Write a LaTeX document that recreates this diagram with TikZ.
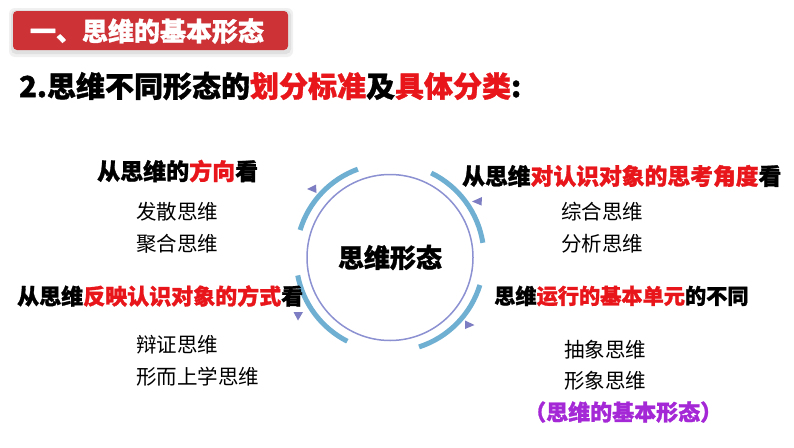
\documentclass[tikz,border=0pt]{standalone}
\usepackage{fontspec}
\setmainfont{Noto Sans CJK SC}[BoldFeatures={FakeBold=1.2}]
\definecolor{myred}{RGB}{232,22,26}
\definecolor{bannerred}{RGB}{205,50,55}
\definecolor{ringline}{RGB}{140,145,210}
\definecolor{arcblue}{RGB}{110,175,210}
\definecolor{tri}{RGB}{125,125,195}
\definecolor{mypurple}{RGB}{165,40,215}
\begin{document}
\begin{tikzpicture}[x=1pt,y=-1pt,
  hdr/.style={anchor=west,inner sep=0pt,font=\bfseries\fontsize{22}{22}\selectfont},
  itm/.style={anchor=west,inner sep=0pt,font=\fontsize{20.5}{20.5}\selectfont},
  arcc/.style={draw=arcblue,line width=5pt},
  trimark/.style={fill=tri}]
\useasboundingbox (0,0) rectangle (794,447);
\fill[white] (0,0) rectangle (794,447);
% banner
\fill[black!6,rounded corners=6pt] (9,8) rectangle (293,57);
\fill[black!12,rounded corners=5pt] (11,10) rectangle (291,54);
\fill[bannerred,rounded corners=4pt] (13,11) rectangle (288,50);
\node[anchor=center,inner sep=0pt,text=white,font=\bfseries\fontsize{26}{26}\selectfont] (banner) at (147,31) {一、思维的基本形态};
% title
\node[anchor=west,inner sep=0pt,font=\bfseries\fontsize{29}{29}\selectfont] (title) at (19,86) {2.思维不同形态的\textcolor{myred}{划分标准}及\textcolor{myred}{具体分类}:};
% hub
\node[circle,draw=ringline,line width=1.5pt,minimum size=166pt,inner sep=0pt,font=\bfseries\fontsize{26}{26}\selectfont] (hub) at (390,257.5) {思维形态};
\begin{scope}[shift={(390,257.5)},y={(0pt,1pt)}]
  \draw[arcc] (110:94) arc (110:163:94);
  \draw[arcc] (9:94) arc (9:64:94);
  \draw[arcc] (-72:94) arc (-72:-17:94);
  \draw[arcc] (191:94) arc (191:243:94);
\end{scope}
% triangles
\fill[trimark] (307,189) -- (316,184.5) -- (316.5,193) -- cycle;
\fill[trimark] (472,201.5) -- (482,197) -- (481.5,205.5) -- cycle;
\fill[trimark] (293.5,312) -- (303,312) -- (298,320.5) -- cycle;
\fill[trimark] (465,320.5) -- (465,329) -- (474.5,325) -- cycle;
% top-left group
\node[hdr,font=\bfseries\fontsize{23}{23}\selectfont] (h1) at (97,171) {从思维的\textcolor{myred}{方向}看};
\node[itm] (a1) at (136,212) {发散思维};
\node[itm] (a2) at (136,243.5) {聚合思维};
% bottom-left group
\node[hdr] (h2) at (17,296) {从思维\textcolor{myred}{反映认识对象的方式}看};
\node[itm] (b1) at (136,345) {辩证思维};
\node[itm] (b2) at (136,377) {形而上学思维};
% top-right group
\node[hdr,font=\bfseries\fontsize{22.8}{22.8}\selectfont] (h3) at (462,176) {从思维\textcolor{myred}{对认识对象的思考角度}看};
\node[itm] (c1) at (561,212) {综合思维};
\node[itm] (c2) at (561,243.5) {分析思维};
% bottom-right group
\node[hdr,font=\bfseries\fontsize{21.2}{21.2}\selectfont] (h4) at (494,296) {思维\textcolor{myred}{运行的基本单元}的不同};
\node[itm] (d1) at (564,350) {抽象思维};
\node[itm] (d2) at (564,381) {形象思维};
\node[anchor=west,inner sep=0pt,text=mypurple,font=\bfseries\fontsize{22}{22}\selectfont] (d3) at (524,412) {（思维的基本形态）};
\end{tikzpicture}
\end{document}
